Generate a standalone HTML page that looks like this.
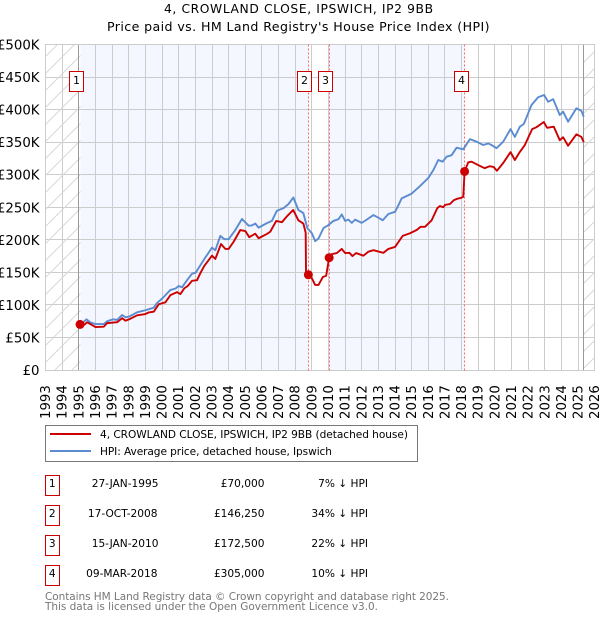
<!DOCTYPE html>
<html>
<head>
<meta charset="utf-8">
<title>4, Crowland Close price chart</title>
<style>
html,body{margin:0;padding:0;background:#fff;width:600px;height:620px;overflow:hidden}
svg{display:block}
text{font-family:"DejaVu Sans","Liberation Sans",sans-serif;fill:#000}
</style>
</head>
<body>
<svg id="chart" xmlns="http://www.w3.org/2000/svg" width="600" height="620" viewBox="0 0 600 620">
  <defs>
    <pattern id="hatch" patternUnits="userSpaceOnUse" width="17" height="17">
      <path d="M-2,19 L19,-2 M-2,2 L2,-2 M15,19 L19,15" stroke="#d8d8d8" stroke-width="1" fill="none"/>
    </pattern>
  </defs>
  <text x="164" y="13" font-size="12.3" textLength="269" lengthAdjust="spacing">4, CROWLAND CLOSE, IPSWICH, IP2 9BB</text>
  <text x="107" y="31" font-size="12.6" textLength="382.5" lengthAdjust="spacing">Price paid vs. HM Land Registry's House Price Index (HPI)</text>
  <g id="plot"></g>

  <g>
    <rect x="45.5" y="425.5" width="372" height="36" fill="#fff" stroke="#777" stroke-width="1"/>
    <line x1="50" x2="91" y1="434" y2="434" stroke="#cc0000" stroke-width="2"/>
    <text x="100" y="438" font-size="10.6" textLength="308" lengthAdjust="spacing">4, CROWLAND CLOSE, IPSWICH, IP2 9BB (detached house)</text>
    <line x1="50" x2="91" y1="451" y2="451" stroke="#5b8bd0" stroke-width="2"/>
    <text x="100" y="455" font-size="10.6" textLength="232" lengthAdjust="spacing">HPI: Average price, detached house, Ipswich</text>
  </g>

  <g font-size="10.6">
    <g>
      <rect x="45.5" y="475.5" width="14" height="20" fill="#fff" stroke="#cc0000"/>
      <text x="52.3" y="487" text-anchor="middle">1</text>
      <text x="158.5" y="487" text-anchor="end">27-JAN-1995</text>
      <text x="264.5" y="487" text-anchor="end">£70,000</text>
      <text x="368" y="487" text-anchor="end">7% ↓ HPI</text>
    </g>
    <g>
      <rect x="45.5" y="505.5" width="14" height="20" fill="#fff" stroke="#cc0000"/>
      <text x="52.3" y="517" text-anchor="middle">2</text>
      <text x="157.5" y="517" text-anchor="end">17-OCT-2008</text>
      <text x="264.5" y="517" text-anchor="end">£146,250</text>
      <text x="368" y="517" text-anchor="end">34% ↓ HPI</text>
    </g>
    <g>
      <rect x="45.5" y="535.5" width="14" height="20" fill="#fff" stroke="#cc0000"/>
      <text x="52.3" y="547" text-anchor="middle">3</text>
      <text x="158.5" y="547" text-anchor="end">15-JAN-2010</text>
      <text x="264.5" y="547" text-anchor="end">£172,500</text>
      <text x="368" y="547" text-anchor="end">22% ↓ HPI</text>
    </g>
    <g>
      <rect x="45.5" y="565.5" width="14" height="20" fill="#fff" stroke="#cc0000"/>
      <text x="52.3" y="577" text-anchor="middle">4</text>
      <text x="157.5" y="577" text-anchor="end">09-MAR-2018</text>
      <text x="264.5" y="577" text-anchor="end">£305,000</text>
      <text x="368" y="577" text-anchor="end">10% ↓ HPI</text>
    </g>
  </g>

  <text x="45" y="600" font-size="10.5" textLength="404" lengthAdjust="spacing" style="fill:#777">Contains HM Land Registry data © Crown copyright and database right 2025.</text>
  <text x="45" y="610" font-size="10.5" textLength="333" lengthAdjust="spacing" style="fill:#777">This data is licensed under the Open Government Licence v3.0.</text>
</svg>
<script>
var yearTicks = [1993,1994,1995,1996,1997,1998,1999,2000,2001,2002,2003,2004,2005,2006,2007,2008,2009,2010,2011,2012,2013,2014,2015,2016,2017,2018,2019,2020,2021,2022,2023,2024,2025,2026];
var valueTicks = [0,50,100,150,200,250,300,350,400,450,500];
var valueTickLabels = ['£0','£50K','£100K','£150K','£200K','£250K','£300K','£350K','£400K','£450K','£500K'];

var saleYears = [1995.07,2008.79,2010.04,2018.18];
var saleValues = [70,146.25,172.5,305];
var saleLabels = ['1','2','3','4'];
var dataEndYear = 2025.35;

var hpiYears = [1995.07,1995.25,1995.46,1995.7,1996,1996.5,1996.7,1997.04,1997.3,1997.6,1997.8,1998.02,1998.5,1999.02,1999.5,1999.7,2000,2000.5,2000.8,2001,2001.2,2001.5,2001.8,2002.02,2002.5,2003,2003.2,2003.5,2003.74,2004,2004.4,2004.8,2005.2,2005.4,2005.6,2005.8,2006.3,2006.6,2006.9,2007.3,2007.6,2007.89,2008.19,2008.49,2008.73,2009,2009.2,2009.4,2009.7,2010,2010.3,2010.6,2010.8,2011,2011.2,2011.4,2011.6,2012,2012.3,2012.7,2013,2013.26,2013.6,2014,2014.2,2014.4,2015,2015.5,2016,2016.3,2016.6,2016.86,2017.1,2017.4,2017.7,2018.1,2018.5,2018.9,2019.3,2019.6,2019.8,2020.1,2020.5,2020.94,2021.2,2021.5,2021.74,2022.2,2022.6,2022.96,2023.2,2023.5,2023.9,2024.1,2024.4,2024.9,2025.2,2025.34];
var hpiValues = [75,73,77.8,73,70.6,70.6,75,77.8,77,84.5,81,82,88.6,92,95.7,103,109.6,123,125,129,127,138,148,149.5,169,188,184,206,201,201,215,232,221.7,222,225,218.7,225.6,229,244.7,248.6,255,265,245.8,241,218,210,198,202,218,222.7,229,231.7,239,229,231,226,231,226,231,238,234,230,239.6,243,253,263.7,271,282.6,295,307,322.6,320,327.7,330,341.5,339,354.6,350.7,345.6,348,345.6,340.8,350.7,370,358,373.7,377.9,407,419,422.4,412,416,391.7,396.8,381.4,402,398,389];

var priceYears = [1995.07,1995.2,1995.5,1996,1996.5,1996.7,1997.3,1997.6,1997.8,1998.1,1998.5,1999,1999.2,1999.5,1999.8,2000.2,2000.5,2000.9,2001.1,2001.34,2001.54,2001.8,2002.1,2002.3,2002.54,2003,2003.2,2003.54,2003.8,2004,2004.3,2004.7,2005,2005.24,2005.6,2005.8,2006.3,2006.5,2006.86,2007.2,2007.5,2007.88,2008.19,2008.49,2008.63,2008.65,2008.79,2009,2009.2,2009.4,2009.66,2009.86,2010.04,2010.2,2010.5,2010.8,2011,2011.26,2011.44,2011.66,2012.1,2012.4,2012.7,2013.3,2013.6,2014,2014.46,2014.9,2015.3,2015.54,2015.8,2016.2,2016.54,2016.7,2016.9,2017,2017.3,2017.54,2017.7,2018,2018.1,2018.18,2018.4,2018.6,2018.98,2019.38,2019.68,2019.92,2020.12,2020.5,2020.94,2021.2,2021.5,2021.8,2022.24,2022.5,2022.94,2023.14,2023.54,2023.9,2024.1,2024.4,2024.9,2025.2,2025.34];
var priceValues = [70,67,73.3,66,66.6,72,73.4,79.6,75.7,78.8,84,86,88.5,89.6,101,104,115,119.6,116.6,125.6,129,137,138,148.7,160,175.6,170.6,193.5,186,186,197,215,213.5,204,209.4,202.4,209,212.4,229,227,236,245.8,230,225,211,149,146.25,141,130.6,130.6,142.8,144.8,172.5,178,179.6,186,179.6,180,175,179.6,175.6,181.8,184,180,186,189,206,210,215,220,220,230,248.6,252,250,253.5,255,261,262.7,264.7,266,305,319,320,315,310,313,312,306,318,334.7,322.6,335,345.6,370,373,381,372,373.7,353,357.6,344.5,362,358,350];

var SVGNS = 'http://www.w3.org/2000/svg';
var plot = document.getElementById('plot');

function xScale(year) { return 45.6 + (year - 1993) * 16.64; }
function yScale(value) { return 370 - value * 0.651; }
function snap(p) { return Math.floor(p) + 0.5; }
function make(tag, attrs, parent) {
  var el = document.createElementNS(SVGNS, tag);
  for (var k in attrs) { el.setAttribute(k, attrs[k]); }
  (parent || plot).appendChild(el);
  return el;
}
function linePath(xs, ys) {
  var d = '';
  for (var i = 0; i < xs.length; i++) {
    d += (i ? 'L' : 'M') + xScale(xs[i]).toFixed(2) + ',' + yScale(ys[i]).toFixed(2);
  }
  return d;
}

var plotTop = snap(yScale(500)), plotBottom = snap(yScale(0)), plotLeft = snap(xScale(1993)), plotRight = snap(xScale(2026));

/* shaded ownership bands */
var band1 = make('rect', {x: snap(xScale(saleYears[0])), y: plotTop, width: snap(xScale(saleYears[1])) - snap(xScale(saleYears[0])), height: plotBottom - plotTop, fill: '#f4f7ff'});


var band2 = make('rect', {x: snap(xScale(saleYears[2])), y: plotTop, width: snap(xScale(saleYears[3])) - snap(xScale(saleYears[2])), height: plotBottom - plotTop, fill: '#f4f7ff'});



/* grid */
yearTicks.forEach(function (y) {
  var x = snap(xScale(y));
  var g = make('line', {x1: x, x2: x, y1: plotTop, y2: plotBottom, stroke: '#ccc', 'stroke-width': 1});
  
  
  var t = make('text', {transform: 'translate(' + (xScale(y) + 4.5) + ',419) rotate(-90)', 'font-size': 13.3});
  
  
  t.textContent = String(y);
});
valueTicks.forEach(function (v, i) {
  var y = snap(yScale(v));
  var g = make('line', {x1: plotLeft, x2: plotRight, y1: y, y2: y, stroke: '#ccc', 'stroke-width': 1});
  
  
  var t = make('text', {x: 39.5, y: yScale(v) + 5, 'text-anchor': 'end', 'font-size': 13.3});
  
  
  t.textContent = valueTickLabels[i];
});

/* hatched no-data areas */
var hatchLeft = make('rect', {x: plotLeft, y: plotTop, width: snap(xScale(saleYears[0])) - plotLeft, height: plotBottom - plotTop, fill: 'url(#hatch)'});


var hatchRight = make('rect', {x: snap(xScale(dataEndYear)), y: plotTop, width: plotRight - snap(xScale(dataEndYear)), height: plotBottom - plotTop, fill: 'url(#hatch)'});


var edgeLeft = make('line', {x1: snap(xScale(1995)), x2: snap(xScale(1995)), y1: plotTop, y2: plotBottom, stroke: '#999', 'stroke-width': 1});


var edgeRight = make('line', {x1: snap(xScale(dataEndYear)), x2: snap(xScale(dataEndYear)), y1: plotTop, y2: plotBottom, stroke: '#999', 'stroke-width': 1});



/* plot frame */
var frame = make('rect', {x: plotLeft, y: plotTop, width: plotRight - plotLeft, height: plotBottom - plotTop, fill: 'none', stroke: '#ccc', 'stroke-width': 1});



/* sale date markers */
saleYears.forEach(function (yr, i) {
  var x = snap(xScale(yr));
  if (i > 0) {
    var v = make('line', {x1: x, x2: x, y1: plotTop, y2: plotBottom, stroke: '#ff6666', 'stroke-width': 1, 'stroke-dasharray': '2,2'});
    
    
  }
});

/* series */
var hpiLine = make('path', {d: linePath(hpiYears, hpiValues), fill: 'none', stroke: '#5b8bd0', 'stroke-width': 1.9, 'stroke-linejoin': 'round'});


var priceLine = make('path', {d: linePath(priceYears, priceValues), fill: 'none', stroke: '#cc0000', 'stroke-width': 1.9, 'stroke-linejoin': 'round'});



saleYears.forEach(function (yr, i) {
  var c = make('circle', {cx: xScale(yr), cy: yScale(saleValues[i]), r: 4.5, fill: '#cc0000'});
  
  
  var bx = Math.round(xScale(yr) - 10) - 0.5;
  var b = make('rect', {x: bx, y: 71.5, width: 14, height: 20, fill: '#fff', stroke: '#cc0000', 'stroke-width': 1});
  
  
  var t = make('text', {x: bx + 7, y: 84, 'text-anchor': 'middle', 'font-size': 11});
  
  
  t.textContent = saleLabels[i];
});
</script>
</body>
</html>
